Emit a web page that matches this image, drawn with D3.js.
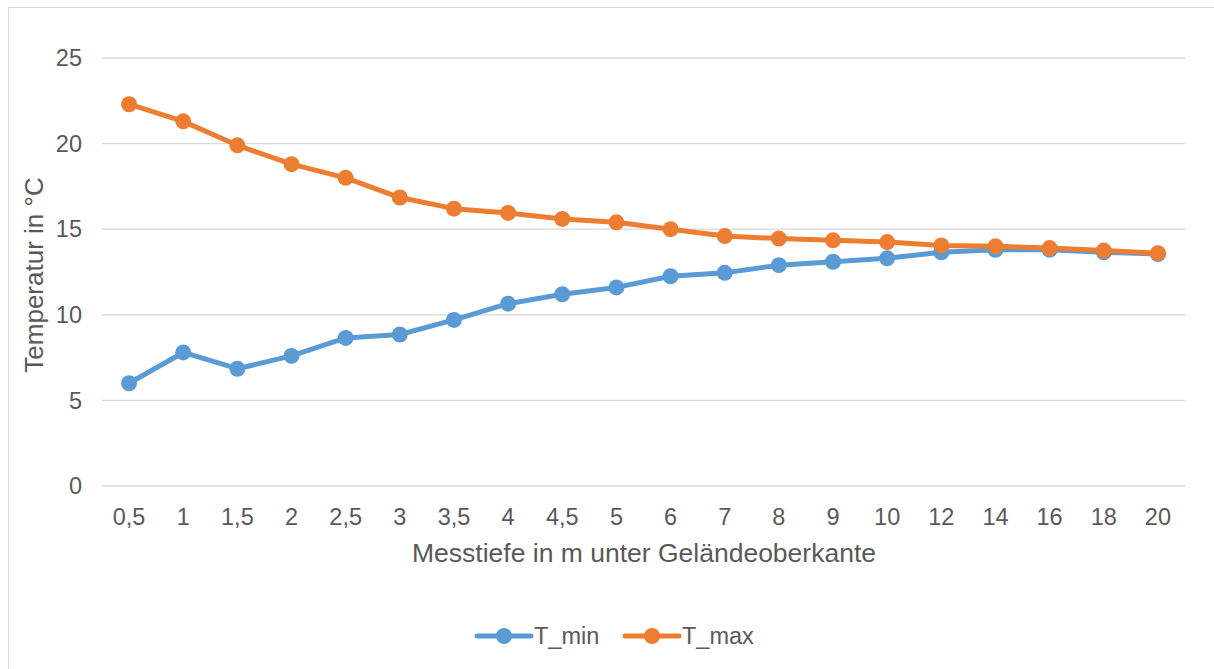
<!DOCTYPE html>
<html><head><meta charset="utf-8">
<script src="https://cdn.jsdelivr.net/npm/d3@7"></script>
<style>body{margin:0;background:#fff;} svg{display:block;font-family:"Liberation Sans",Arial,sans-serif;}</style>
</head><body>
<svg id="c" width="1214" height="669"></svg>
<script>
const categories = ["0,5","1","1,5","2","2,5","3","3,5","4","4,5","5","6","7","8","9","10","12","14","16","18","20"];
const tMin = [6.0,7.8,6.85,7.6,8.65,8.85,9.7,10.65,11.2,11.6,12.25,12.45,12.9,13.1,13.3,13.65,13.8,13.8,13.65,13.55];
const tMax = [22.3,21.3,19.9,18.8,18.0,16.85,16.2,15.95,15.6,15.4,15.0,14.6,14.45,14.35,14.25,14.05,14.0,13.9,13.75,13.6];
const yTicks = [0,5,10,15,20,25];
const seriesNames = ["T_min","T_max"];
const colors = ["#5b9bd5","#ed7d31"];

(function(){
const svg = d3.select("#c");
svg.append("rect").attr("x",8.5).attr("y",7.5).attr("width",1220).attr("height",680)
  .attr("fill","#fff").attr("stroke","#d9d9d9").attr("stroke-width",1);

const pl=102, pr=1185, pt=58, pb=486;
const x = d3.scalePoint().domain(categories).range([pl,pr]).padding(0.5);
const y = d3.scaleLinear().domain([0,25]).range([pb,pt]);

const g = svg.append("g");
g.selectAll("line.grid").data(yTicks).join("line")
  .attr("x1",pl).attr("x2",pr).attr("y1",d=>y(d)).attr("y2",d=>y(d))
  .attr("stroke","#d9d9d9").attr("stroke-width",1.3);

g.selectAll("text.yt").data(yTicks).join("text")
  .attr("x",82).attr("y",d=>y(d)).attr("dy","0.35em").attr("text-anchor","end")
  .attr("fill","#595959").attr("font-size",23.5).text(d=>d);

g.selectAll("text.xt").data(categories).join("text")
  .attr("x",d=>x(d)).attr("y",517).attr("dy","0.35em").attr("text-anchor","middle")
  .attr("fill","#595959").attr("font-size",23.5).text(d=>d);

svg.append("text").attr("x",644).attr("y",553).attr("dy","0.35em")
  .attr("text-anchor","middle").attr("fill","#595959").attr("font-size",26.5)
  .text("Messtiefe in m unter Geländeoberkante");
svg.append("text").attr("transform","translate(34,275) rotate(-90)").attr("dy","0.35em")
  .attr("text-anchor","middle").attr("fill","#595959").attr("font-size",26)
  .text("Temperatur in °C");

const line = d3.line().x((d,i)=>x(categories[i])).y(d=>y(d));
[tMin,tMax].forEach((s,k)=>{
  svg.append("path").datum(s).attr("d",line).attr("fill","none")
    .attr("stroke",colors[k]).attr("stroke-width",5).attr("stroke-linejoin","round").attr("stroke-linecap","round");
  svg.append("g").selectAll("circle").data(s).join("circle")
    .attr("cx",(d,i)=>x(categories[i])).attr("cy",d=>y(d)).attr("r",8).attr("fill",colors[k]);
});

const legX=[477,625];
seriesNames.forEach((n,k)=>{
  const lg = svg.append("g").attr("transform",`translate(${legX[k]},636)`);
  lg.append("line").attr("x1",0).attr("x2",54).attr("stroke",colors[k]).attr("stroke-width",5).attr("stroke-linecap","round");
  lg.append("circle").attr("cx",27).attr("r",8).attr("fill",colors[k]);
  lg.append("text").attr("x",57).attr("dy","0.35em").attr("fill","#595959").attr("font-size",23.5).text(n);
});
})();
</script>
</body></html>
